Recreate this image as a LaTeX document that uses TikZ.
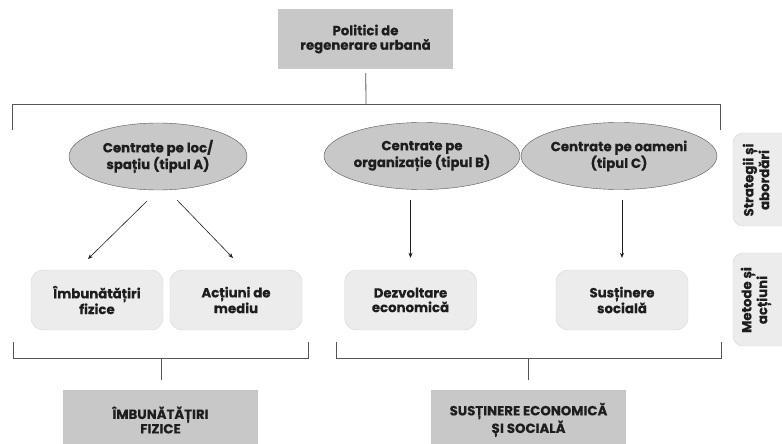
\documentclass[tikz,border=0pt]{standalone}
\usepackage{fontspec}
\setmainfont{Poppins}[BoldFont={Poppins Bold},BoldFeatures={FakeBold=0.4}]
\usetikzlibrary{arrows.meta}
\usetikzlibrary{shapes}
\definecolor{boxgray}{HTML}{C8C8C8}
\definecolor{softgray}{HTML}{ECECEC}
\definecolor{edgegray}{HTML}{D6D6D6}
\definecolor{linegray}{HTML}{555555}
\definecolor{ink}{HTML}{1E1E1E}

\begin{document}
\begin{tikzpicture}[x=1pt,y=-1pt,
			every node/.style={font=\fontsize{13.3}{14.5}\selectfont\bfseries,text=ink,align=center},
			topbox/.style={fill=boxgray,minimum width=175,minimum height=60},
			typeell/.style={ellipse,draw=linegray,fill=boxgray,minimum height=67,inner sep=1pt},
			actbox/.style={rounded corners=12pt,draw=edgegray,fill=softgray,minimum width=132,minimum height=60},
			sidebox/.style={rounded corners=10pt,draw=edgegray,fill=softgray},
			link/.style={draw=linegray,line width=0.8pt},
			arr/.style={draw=ink,line width=0.6pt,-{Stealth[length=5pt,width=4pt]}}]
			\useasboundingbox (0,0) rectangle (782,444);
			
			% top and types
			\node[topbox] (pol) at (365.5,39) {Politici de\\regenerare urbană};
			\node[typeell,minimum width=178] (eA) at (158,156.5) {Centrate pe loc/\\spațiu (tipul A)};
			\node[typeell,minimum width=192] (eB) at (422,156) {Centrate pe\\organizație (tipul B)};
			\node[typeell,minimum width=178] (eC) at (619,156) {Centrate pe oameni\\(tipul C)};
			
			% actions
			\node[actbox] (bImb) at (97,300) {Îmbunătățiri\\fizice};
			\node[actbox] (bAct) at (236,300) {Acțiuni de\\mediu};
			\node[actbox] (bDez) at (410.5,300) {Dezvoltare\\economică};
			\node[actbox] (bSus) at (622,300) {Susținere\\socială};
			
			% results
			\node[topbox,minimum width=195] (fA) at (160.5,420) {ÎMBUNĂTĂȚIRI\\FIZICE};
			\node[topbox,minimum width=195] (fB) at (528.5,420) {SUSȚINERE ECONOMICĂ\\ȘI SOCIALĂ};
			
			% side labels
			\draw[sidebox] (733,133) rectangle (800,226);
			\draw[sidebox] (733,253) rectangle (800,346);
			\node[rotate=90] (sStr) at (756,180) {Strategii și\\abordări};
			\node[rotate=90] (sMet) at (756,300) {Metode și\\acțiuni};
			
			% top bracket
			\coordinate (tj) at (366,104);
			\draw[link,shorten <=4pt] (pol) -- (tj);
			\draw[link] (12,130) -- (12,104) -- (720,104) -- (720,130);
			
			% arrows
			\coordinate (a1) at (147,201);
			\coordinate (a1e) at (88,259);
			\coordinate (a2) at (177,200);
			\coordinate (a2e) at (233,258);
			\draw[arr] (a1) -- (a1e);
			\draw[arr] (a2) -- (a2e);
			\draw[arr,shorten <=10pt,shorten >=12pt] (eB.south -| bDez.north) -- (bDez.north);
			\draw[arr,shorten <=10pt,shorten >=12pt] (eC.south -| bSus.north) -- (bSus.north);
			
			% bottom brackets
			\coordinate (jA) at (161,358);
			\coordinate (jB) at (528,358);
			\draw[link] (13,342) -- (13,358) -- (308,358) -- (308,342);
			\draw[link] (336,342) -- (336,358) -- (721,358) -- (721,342);
			\draw[link,shorten >=10pt] (jA) -- (fA.north -| jA);
			\draw[link,shorten >=10pt] (jB) -- (fB.north -| jB);
		\end{tikzpicture}
\end{document}
